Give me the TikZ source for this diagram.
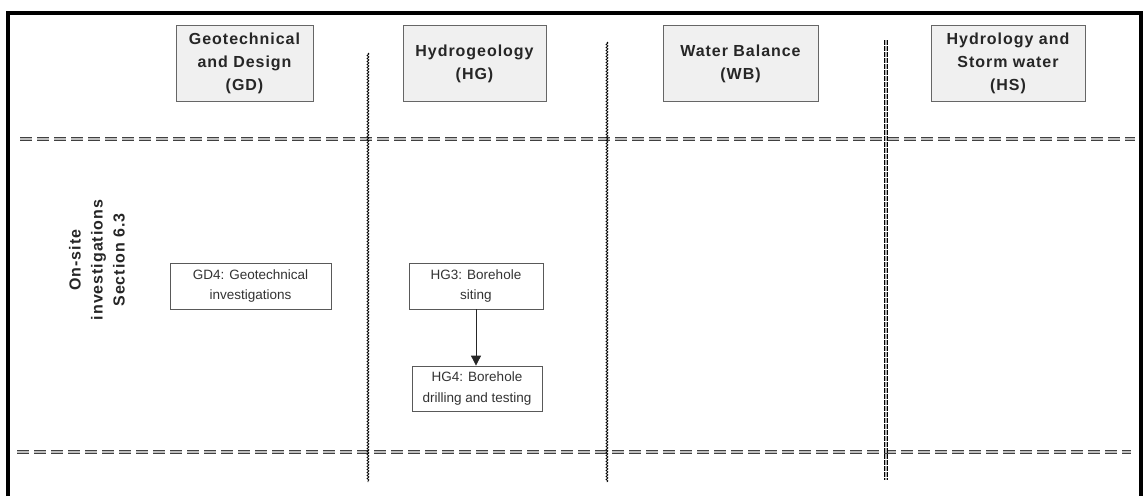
\documentclass[tikz,border=0pt]{standalone}
\usepackage{fontspec}
\setmainfont{Liberation Sans}
\newfontfamily\headfont[LetterSpace=6]{Liberation Sans}
\usetikzlibrary{arrows.meta,decorations.pathmorphing}

\begin{document}
\begin{tikzpicture}[x=1pt,y=-1pt,
	headbox/.style={draw=black!60,fill=black!6,line width=0.8pt,align=center,
		font=\fontsize{16}{23}\headfont\bfseries,text=black!85,minimum height=76,inner sep=0pt},
	taskbox/.style={draw=black!65,fill=white,line width=0.8pt,align=center,
		font=\fontsize{13.5}{20.5}\selectfont,text=black!80,minimum height=46,inner sep=0pt},
	rowline/.style={draw=black!75,double=black!25,line width=0.8pt,double distance=2.4pt,
		dash pattern=on 12pt off 5pt},
	laneline/.style={draw=black,line width=0.8pt,decorate,
		decoration={snake,amplitude=0.9pt,segment length=3pt}},
	laneline2/.style={draw=black,double=black!30,line width=0.9pt,double distance=1.6pt,
		dash pattern=on 4.5pt off 1.5pt}]
	\useasboundingbox (0,0) rectangle (1144,496);
	% frame
	\draw [line width=4pt] (8,496) -- (8,13) -- (1141,13) -- (1141,496);
	% row separators
	\draw [rowline] (20,139) -- (1135,139);
	\draw [rowline] (17,452) -- (1131,452);
	% lane separators
	\draw [laneline] (368,53) -- (368,482);
	\draw [laneline] (607,42) -- (607,482);
	\draw [laneline2] (886,40) -- (886,480);
	% lane headers
	\node [headbox,minimum width=137] (gd) at (244.5,63) {Geotechnical\\and Design\\(GD)};
	\node [headbox,minimum width=143] (hg) at (474.5,63.5) {Hydrogeology\\(HG)};
	\node [headbox,minimum width=155] (wb) at (740.5,63.5) {Water Balance\\(WB)};
	\node [headbox,minimum width=154] (hs) at (1008,63.5) {Hydrology and\\Storm water\\(HS)};
	% row label
	\node [rotate=90,align=center,font=\fontsize{16}{22}\headfont\bfseries,text=black!85]
		(onsite) at (97,260) {On-site\\investigations\\Section 6.3};
	% tasks
	\node [taskbox,minimum width=161] (gd4) at (250.5,286) {GD4: Geotechnical\\investigations};
	\node [taskbox,minimum width=134] (hg3) at (476,286) {HG3: Borehole\\siting};
	\node [taskbox,minimum width=130,minimum height=45] (hg4) at (477,388.5) {HG4: Borehole\\drilling and testing};
	\draw [black!85,line width=0.8pt,-{Triangle[length=10pt,width=10pt]}] (hg3) -- (hg3 |- hg4.north);
\end{tikzpicture}
\end{document}
